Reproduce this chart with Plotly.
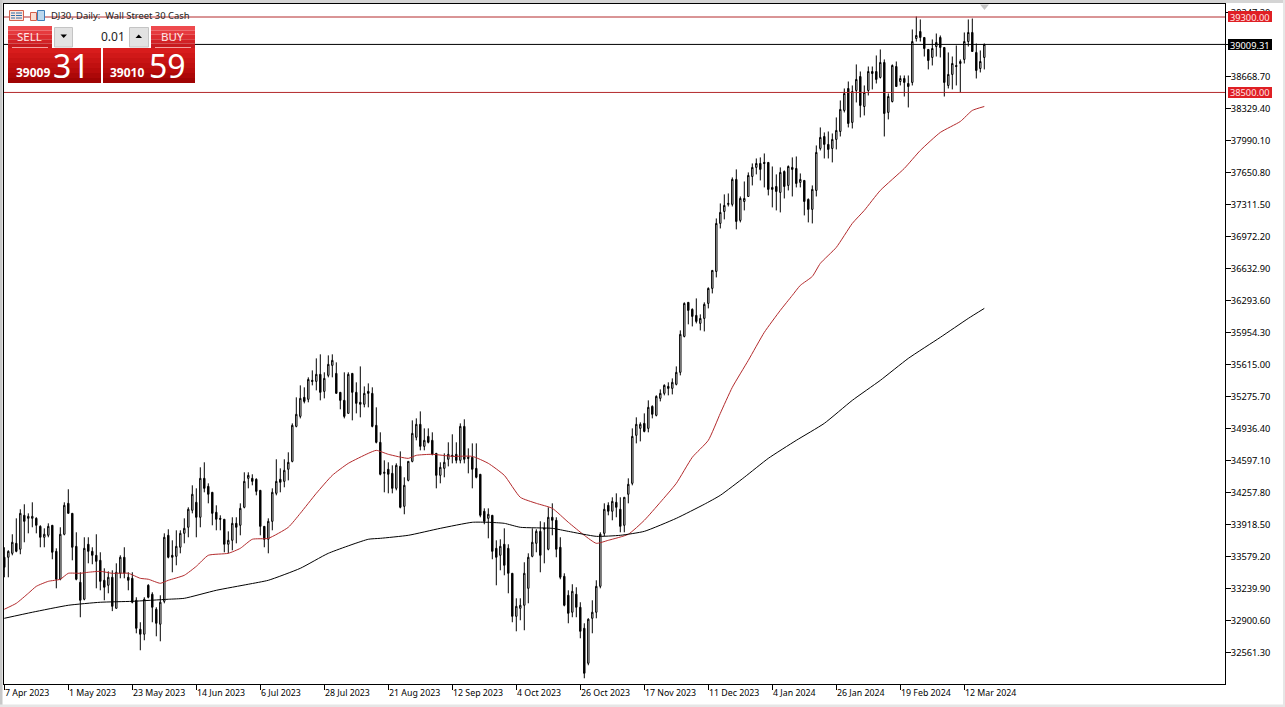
import plotly.graph_objects as go

FONT = "Noto Sans"

bar_index = list(range(246))

high_prices = [
33677,33645,33815,33984,34080,34133,34037,34154,33995,33910,
33878,33931,33910,33666,33889,34154,34292,34037,33836,33412,
33783,33783,33677,33815,33624,33454,33422,33433,33507,33592,
33677,33412,33412,33147,32882,33147,33285,33200,33041,33168,
33825,33868,33751,33857,33857,33984,34101,34334,34302,34525,
34578,34355,34260,34122,34016,33974,33846,33995,33995,34143,
34472,34472,34451,34408,34281,33899,33984,34302,34610,34514,
34610,34684,34991,35267,35394,35373,35479,35553,35680,35723,
35532,35712,35723,35638,35320,35532,35532,35521,35426,35595,
35383,35415,35373,35161,34896,34599,34578,34546,34567,34694,
34419,34588,35023,35044,35118,34938,34938,34896,34673,34578,
34673,34790,34875,34790,34991,35034,34726,34779,34779,34451,
34090,34090,34016,33751,33762,33878,33709,33401,33136,33136,
33518,33613,33878,33868,33953,33942,34101,34143,33995,33783,
33401,33221,33285,33253,33094,32871,32924,33115,33327,33836,
34143,34154,34207,34249,34207,34207,34408,34938,35055,35002,
35097,35235,35182,35288,35351,35405,35426,35468,35595,35977,
36274,36274,36210,36316,36147,36274,36433,36613,37164,37323,
37419,37429,37599,37684,37397,37556,37652,37747,37800,37811,
37853,37758,37715,37631,37705,37673,37726,37811,37821,37641,
37567,37376,37514,37938,38129,38076,38086,38065,38235,38415,
38542,38616,38574,38797,38722,38574,38775,38775,38892,38956,
38850,38489,38797,38828,38680,38680,38680,39168,39305,39274,
39083,38956,39062,39125,39104,38977,38924,38881,38998,38850,
39136,39274,39284,39019,38945,39019]

low_prices = [
33359,33359,33592,33624,33603,33730,33825,33889,33825,33677,
33677,33783,33550,33242,33327,33804,34037,33539,33327,32935,
33115,33507,33497,33242,33221,33115,33189,33000,33030,33348,
33348,33221,33083,32765,32585,32691,33136,32882,32733,32680,
33083,33560,33412,33486,33613,33719,33783,34037,33783,33889,
34260,34143,33910,33857,33857,33624,33613,33645,33719,33804,
34090,34302,34334,34228,33804,33677,33613,33857,34228,34260,
34313,34387,34578,34949,35044,35203,35214,35394,35341,35235,
35256,35479,35479,35309,35140,35044,35097,35023,35097,35055,
35161,35161,34949,34779,34440,34260,34249,34249,34281,34090,
34027,34376,34578,34811,34705,34705,34779,34652,34302,34355,
34419,34535,34567,34567,34567,34567,34461,34302,34408,33995,
33921,33772,33550,33274,33433,33380,33189,32882,32786,32903,
32797,33083,33571,33624,33412,33507,33645,33804,33571,33338,
33051,32871,32935,32935,32712,32288,32426,32765,32924,33242,
33793,34016,33963,33995,33836,33836,34143,34334,34779,34800,
34896,34896,35044,35065,35224,35288,35288,35298,35394,35500,
35903,36041,36019,36051,35977,35966,36210,36369,36539,37058,
37154,37291,37291,37048,37122,37249,37397,37514,37631,37567,
37493,37408,37281,37249,37228,37376,37461,37397,37493,37493,
37196,37122,37111,37397,37885,37800,37800,37758,37896,38033,
38288,38129,38118,38394,38235,38256,38468,38532,38595,38648,
38033,38214,38394,38563,38574,38457,38341,38574,39040,39040,
38881,38744,38786,38881,38871,38457,38542,38532,38574,38500,
38807,38987,38934,38648,38712,38744]

open_prices = [
33571,33571,33613,33719,33656,34016,33984,33984,33984,33899,
33783,33804,33910,33634,33338,33815,34143,34037,33687,33306,
33126,33709,33634,33592,33539,33327,33274,33359,33030,33401,
33571,33359,33348,33115,32808,32755,33274,33179,33020,32861,
33104,33804,33592,33581,33677,33825,33889,34069,34154,33995,
34408,34323,34260,34048,33984,33974,33709,33751,33931,33910,
34101,34408,34408,34398,34281,33899,33762,33952,34249,34398,
34376,34504,34588,34959,35065,35267,35246,35447,35436,35511,
35330,35500,35606,35521,35320,35235,35097,35521,35320,35214,
35193,35330,35309,34970,34790,34461,34504,34461,34302,34535,
34111,34387,34588,34843,34981,34747,34853,34811,34673,34440,
34514,34610,34652,34663,34599,34959,34631,34631,34514,34451,
34059,33984,34016,33666,33592,33709,33666,33401,32945,33030,
33062,33242,33581,33719,33846,33868,33656,33995,33963,33677,
33369,33168,32988,33179,33041,32818,32447,32924,32988,33263,
33825,34122,34059,34154,34080,33910,34239,34355,34864,34938,
34991,34938,35171,35076,35256,35309,35383,35362,35405,35532,
35913,36274,36200,36136,36051,36104,36263,36422,36602,37111,
37238,37313,37313,37578,37143,37344,37397,37609,37705,37747,
37758,37758,37493,37503,37440,37662,37514,37705,37694,37546,
37567,37366,37260,37461,37906,38033,37949,37906,38002,38086,
38309,38542,38182,38521,38669,38351,38521,38722,38722,38659,
38818,38288,38404,38775,38616,38648,38595,38606,39072,39146,
39083,38956,38871,38987,39083,38977,38574,38691,38786,38807,
38850,39040,39136,38924,38754,38871]

close_prices = [
33465,33634,33730,33634,34037,33952,34005,34005,33910,33783,
33815,33899,33624,33338,33815,34122,34037,33677,33338,33115,
33666,33634,33592,33528,33316,33253,33359,33051,33412,33571,
33401,33327,33094,32818,32755,33126,33147,33041,32871,33094,
33783,33571,33571,33687,33825,33878,34080,34239,33995,34408,
34302,34239,34037,33974,33974,33709,33751,33931,33889,34090,
34376,34440,34376,34270,33899,33762,33952,34260,34376,34366,
34493,34578,34970,35087,35256,35224,35457,35436,35511,35320,
35468,35617,35659,35309,35235,35065,35511,35320,35203,35193,
35309,35309,34959,34790,34451,34472,34451,34302,34546,34101,
34334,34588,34885,34981,34747,34811,34790,34663,34440,34525,
34578,34663,34641,34599,34959,34610,34620,34504,34419,34016,
33952,34027,33634,33571,33687,33486,33401,32945,33051,33062,
33401,33571,33730,33846,33592,33878,33995,33963,33656,33359,
33062,32977,33210,33041,32786,32341,32914,32988,33263,33815,
34080,34059,34164,34101,33899,34207,34345,34853,34981,34981,
34906,35161,35087,35277,35309,35394,35362,35426,35532,35935,
36263,36189,36125,36072,36104,36253,36422,36613,37111,37228,
37302,37323,37578,37132,37376,37376,37620,37705,37747,37684,
37747,37472,37472,37450,37652,37503,37715,37684,37535,37578,
37344,37260,37472,37864,38023,37949,37896,38002,38097,38320,
38489,38171,38510,38638,38362,38500,38722,38701,38638,38818,
38277,38457,38786,38563,38648,38606,38563,39040,39104,39083,
38966,38839,38966,39030,38977,38606,38691,38807,38775,38828,
39040,39136,38934,38733,38828,39009]

red_ma_index = [0,3,6,8,11,14,16,19,21,24,27,31,34,36,39,41,45,48,51,56,59,62,66,71,74,78,82,86,91,93,96,101,103,107,112,117,121,125,129,133,137,141,145,148,151,156,160,164,168,172,176,179,182,186,190,194,197,199,202,204,208,212,215,219,225,229,234,239,242,245]
red_ma_values = [33020,33083,33189,33263,33316,33338,33401,33401,33412,33422,33401,33401,33348,33338,33295,33327,33380,33475,33592,33613,33666,33762,33772,33889,34037,34249,34440,34567,34673,34705,34663,34620,34652,34663,34641,34641,34567,34440,34207,34143,34090,33942,33804,33719,33751,33815,33963,34154,34355,34631,34811,35097,35373,35659,35956,36189,36348,36454,36549,36687,36857,37111,37249,37461,37694,37885,38076,38192,38309,38351]

black_ma_index = [0,7,16,24,32,41,45,53,61,66,74,81,91,94,101,109,117,121,125,129,137,141,148,154,160,168,175,179,185,191,198,205,212,219,226,234,241,245]
black_ma_values = [32924,32988,33062,33094,33104,33126,33136,33221,33285,33327,33454,33613,33762,33772,33804,33878,33942,33942,33931,33889,33878,33846,33793,33804,33846,33984,34133,34228,34419,34620,34811,34991,35235,35447,35680,35903,36104,36210]

date_tick_index = list(range(0, 241, 16))
date_tick_labels = ["7 Apr 2023","1 May 2023","23 May 2023","14 Jun 2023","6 Jul 2023","28 Jul 2023","21 Aug 2023","12 Sep 2023","4 Oct 2023","26 Oct 2023","17 Nov 2023","11 Dec 2023","4 Jan 2024","26 Jan 2024","19 Feb 2024","12 Mar 2024"]
price_ticks = [39347.30,39008.00,38668.70,38329.40,37990.10,37650.80,37311.50,36972.20,36632.90,36293.60,35954.30,35615.00,35275.70,34936.40,34597.10,34257.80,33918.50,33579.20,33239.90,32900.60,32561.30]
level_red = [39300.00, 38500.00]
level_current = 39009.31

W, H = 1285, 707
L, R, T, B = 4, 1225, 4, 684
def px(x): return (x - L) / (R - L)
def py(y): return (B - y) / (B - T)

RED = "#b32a2c"
shapes, ann = [], []

def rect(x0, y0, x1, y1, fill, line=None):
    shapes.append(dict(type="rect", xref="paper", yref="paper", x0=px(x0), x1=px(x1), y0=py(y0), y1=py(y1),
                       fillcolor=fill, line=dict(color=line or fill, width=1 if line else 0), layer="above"))

def text(x, y, s, size, color="black", anchor="center", family=FONT, bold=False):
    ann.append(dict(xref="paper", yref="paper", x=px(x), y=py(y), text=f"<b>{s}</b>" if bold else s, showarrow=False,
                    xanchor=anchor, yanchor="middle", font=dict(family=family, size=size, color=color), borderpad=0, borderwidth=0))

def gradient(x0, y0, x1, y1, colors):
    n = len(colors)
    for k, c in enumerate(colors):
        rect(x0, y0 + (y1 - y0) * k / n, x1, y0 + (y1 - y0) * (k + 1) / n, c)

# horizontal levels
for v in level_red:
    shapes.append(dict(type="line", xref="paper", yref="y", x0=0, x1=1, y0=v, y1=v, line=dict(color=RED, width=1), layer="above"))
shapes.append(dict(type="line", xref="paper", yref="y", x0=0, x1=1, y0=level_current, y1=level_current, line=dict(color="black", width=1), layer="above"))

# window edges
rect(0, 0, 1285, 3, "#d4d4d4")
rect(0, 0, 2.5, 707, "#c8c8c8")
rect(1283, 0, 1285, 707, "#e6e6e6")
rect(0, 704.5, 1285, 707, "#e6e6e6")

# scroll marker
shapes.append(dict(type="path", xref="paper", yref="paper", layer="above",
                   path=f"M {px(980)} {py(4.5)} L {px(989)} {py(4.5)} L {px(984.5)} {py(10)} Z", fillcolor="#c4c4c4", line=dict(width=0)))

# chart header icons and title
rect(9.5, 10.5, 23.5, 20.5, "#fbe4dc", "#d4604c")
for yy in (13, 15.5, 18):
    shapes.append(dict(type="line", xref="paper", yref="paper", x0=px(16), x1=px(22), y0=py(yy), y1=py(yy), line=dict(color="#2f6fa8", width=1), layer="above"))
    shapes.append(dict(type="line", xref="paper", yref="paper", x0=px(11), x1=px(15), y0=py(yy), y1=py(yy), line=dict(color="#2f6fa8", width=1), layer="above"))
rect(30.5, 12.5, 36.5, 20.5, "#fbdcd0", "#d4604c")
rect(37.5, 10.5, 44.5, 20.5, "#bcd8ee", "#3f7fb8")
text(51, 15.5, "DJ30, Daily:  Wall Street 30 Cash", 9.4, color="#222222", anchor="left")

# trade panel
gradient(8, 26, 52, 48, ["#ee4a4e", "#e63a3e", "#dc2c30", "#d22226", "#c81a1e"])
gradient(151, 26, 195, 48, ["#ee4a4e", "#e63a3e", "#dc2c30", "#d22226", "#c81a1e"])
gradient(8, 48, 101, 83, ["#d81c1c", "#d01818", "#c81414", "#c01010", "#b80c0c", "#ac0808", "#a00404"])
gradient(103, 48, 195, 83, ["#d81c1c", "#d01818", "#c81414", "#c01010", "#b80c0c", "#ac0808", "#a00404"])
rect(12, 47, 48, 48, "#f4a0a0")
rect(155, 47, 191, 48, "#f4a0a0")
rect(52, 26, 151, 48, "#ffffff")
rect(54.5, 27.5, 72.5, 47, "#e2e2e2", "#c4c4c4")
rect(129.5, 27.5, 148.5, 47, "#e2e2e2", "#c4c4c4")
shapes.append(dict(type="path", xref="paper", yref="paper", layer="above", path=f"M {px(60.5)} {py(34.5)} L {px(67)} {py(34.5)} L {px(63.7)} {py(38)} Z", fillcolor="black", line=dict(width=0)))
shapes.append(dict(type="path", xref="paper", yref="paper", layer="above", path=f"M {px(135.5)} {py(38)} L {px(142)} {py(38)} L {px(138.7)} {py(34.5)} Z", fillcolor="black", line=dict(width=0)))
text(29, 36.5, "SELL", 11.5, "#ffe8e8")
text(172, 36.5, "BUY", 11.5, "#ffe8e8")
text(125, 36.5, "0.01", 12, "#222222", anchor="right")
text(16, 73, "39009", 12, "#ffffff", anchor="left", bold=True)
text(110, 73, "39010", 12, "#ffffff", anchor="left", bold=True)
text(71, 65, "31", 32, "#ffffff")
text(167, 65, "59", 32, "#ffffff")

# price labels on the right axis
def price_label(value, y0, y1, fill, color):
    rect(1228, y0, 1272, y1, fill)
    text(1250, (y0 + y1) / 2 + 0.5, f"{value:.2f}", 9.25, color)
price_label(level_red[0], 11, 22, "#df1f24", "#ffe4e4")
price_label(level_current, 39, 50, "#000000", "#ffffff")
price_label(level_red[1], 87, 98, "#df1f24", "#ffe4e4")

# date labels: left-aligned next to their ticks
for i, s in zip(date_tick_index, date_tick_labels):
    ann.append(dict(xref="x", yref="paper", x=i, y=py(692.5), text=s, showarrow=False, xanchor="left", yanchor="middle",
                    font=dict(family=FONT, size=8.8, color="black"), borderpad=0))

fig = go.Figure()
fig.add_trace(go.Candlestick(
    x=bar_index, open=open_prices, high=high_prices, low=low_prices, close=close_prices,
    increasing=dict(line=dict(color="black", width=1), fillcolor="white"),
    decreasing=dict(line=dict(color="black", width=1), fillcolor="black"),
    whiskerwidth=0, hoverinfo="skip", showlegend=False))
fig.add_trace(go.Scatter(x=red_ma_index, y=red_ma_values, mode="lines", line=dict(color=RED, width=1, shape="spline", smoothing=0.5), hoverinfo="skip", showlegend=False))
fig.add_trace(go.Scatter(x=black_ma_index, y=black_ma_values, mode="lines", line=dict(color="black", width=1, shape="spline", smoothing=0.5), hoverinfo="skip", showlegend=False))

# the 39008.00 label is fully covered by the live-price tag in the reference
tick_text = ["" if v == 39008.00 else f"{v:.2f}" for v in price_ticks]

fig.update_layout(
    width=W, height=H, autosize=False,
    margin=dict(l=L, r=W - R, t=T, b=H - B, pad=0),
    paper_bgcolor="white", plot_bgcolor="white", boxgap=0.5,
    shapes=shapes, annotations=ann, showlegend=False,
    font=dict(family=FONT, size=9.25, color="black"),
    xaxis=dict(type="linear", range=[-0.075, 305.175], rangeslider=dict(visible=False), showgrid=False, zeroline=False,
               tickmode="array", tickvals=date_tick_index, ticktext=[""] * len(date_tick_index), ticks="outside", ticklen=5,
               tickcolor="black", tickwidth=1, showline=True, linecolor="black", linewidth=1, mirror=True),
    yaxis=dict(side="right", range=[32227.3, 39437.8], showgrid=False, zeroline=False, tickmode="array", tickvals=price_ticks,
               ticktext=tick_text, ticks="outside", ticklen=5, tickcolor="black", tickwidth=1, ticklabelstandoff=-2,
               showline=True, linecolor="black", linewidth=1, mirror=True, tickfont=dict(family=FONT, size=9.25, color="black")),
)

fig.write_html("out.html", config=dict(displayModeBar=False),
               post_script="document.body.style.margin='0';document.body.style.overflow='hidden';")
